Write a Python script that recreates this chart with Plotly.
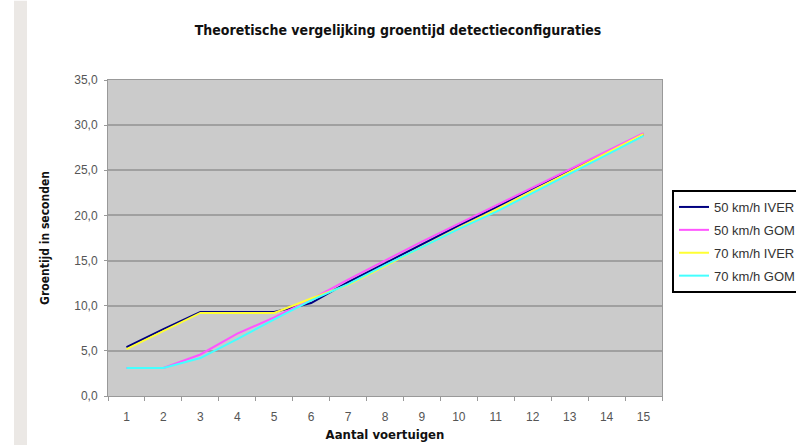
import plotly.graph_objects as go

vehicles = [str(i) for i in range(1, 16)]
iver50 = [5.4, 7.4, 9.3, 9.3, 9.3, 10.3, 12.6, 14.7, 16.8, 18.9, 20.9, 23.0, 25.0, 27.0, 29.0]
gom50 = [3.1, 3.1, 4.6, 6.9, 8.7, 10.7, 12.9, 15.0, 17.1, 19.1, 21.1, 23.1, 25.1, 27.1, 29.1]
iver70 = [5.2, 7.2, 9.2, 9.2, 9.2, 10.8, 12.3, 14.4, 16.5, 18.6, 20.6, 22.7, 24.8, 26.9, 29.0]
gom70 = [3.1, 3.1, 4.2, 6.3, 8.5, 10.6, 12.4, 14.5, 16.5, 18.5, 20.4, 22.5, 24.6, 26.7, 28.8]

series = [
    ("50 km/h IVER", iver50, "#000080"),
    ("50 km/h GOM", gom50, "#ff55ff"),
    ("70 km/h IVER", iver70, "#ffff33"),
    ("70 km/h GOM", gom70, "#44ffff"),
]

fig = go.Figure()
for i, (name, vals, col) in enumerate(series):
    fig.add_trace(go.Scatter(x=vehicles, y=vals, name=name, mode="lines",
                             legendgroup=f"g{i}",
                             line=dict(color=col, width=2)))

narrow = "Liberation Sans Narrow, DejaVu Sans Condensed, Arial Narrow, sans-serif"
tickfont = dict(family="Liberation Sans, Arial, sans-serif", size=12, color="#555")

fig.update_layout(
    width=796, height=445,
    margin=dict(l=108, r=134, t=79.5, b=49, autoexpand=False),
    paper_bgcolor="white",
    plot_bgcolor="#cbcbcb",
    separators=",.",
    title=dict(text="<b>Theoretische vergelijking groentijd detectieconfiguraties</b>",
               x=0.5, xanchor="center", y=1 - 30 / 445, yanchor="middle",
               font=dict(family=narrow, size=14, color="#111")),
    showlegend=True,
    legend=dict(xref="container", yref="container", x=672 / 796, y=1 - 190 / 445,
                xanchor="left", yanchor="top", traceorder="grouped",
                bgcolor="white", bordercolor="black", borderwidth=2,
                font=dict(family="Liberation Sans, Arial, sans-serif", size=13, color="#333"),
                itemwidth=30, tracegroupgap=3),
    xaxis=dict(type="category", range=[-0.5, 14.5], tickson="boundaries",
               ticks="outside", ticklen=4, ticklabelstandoff=10, automargin=False,
               tickcolor="#999", showgrid=False, showline=True, linecolor="#999",
               mirror=True, zeroline=False, tickfont=tickfont,
               title=dict(text="<b>Aantal voertuigen</b>", standoff=6,
                          font=dict(family=narrow, size=13, color="#111"))),
    yaxis=dict(range=[0, 35], dtick=5, tickformat=".1f", ticks="outside", ticklen=3,
               ticklabelstandoff=4, automargin=False,
               tickcolor="#999", showgrid=True, gridcolor="#a0a0a0", gridwidth=1.5,
               showline=True, linecolor="#999", mirror=True, zeroline=False,
               tickfont=tickfont,
               title=dict(text="<b>Groentijd in seconden</b>", standoff=22,
                          font=dict(family=narrow, size=12, color="#111"))),
    shapes=[dict(type="rect", xref="paper", yref="paper",
                 x0=(14 - 108) / 554, x1=(27 - 108) / 554,
                 y0=(396 - 445) / 316.5, y1=396 / 316.5,
                 fillcolor="#ebe8e5", line=dict(width=0), layer="below")],
)

fig.write_html("out.html")
